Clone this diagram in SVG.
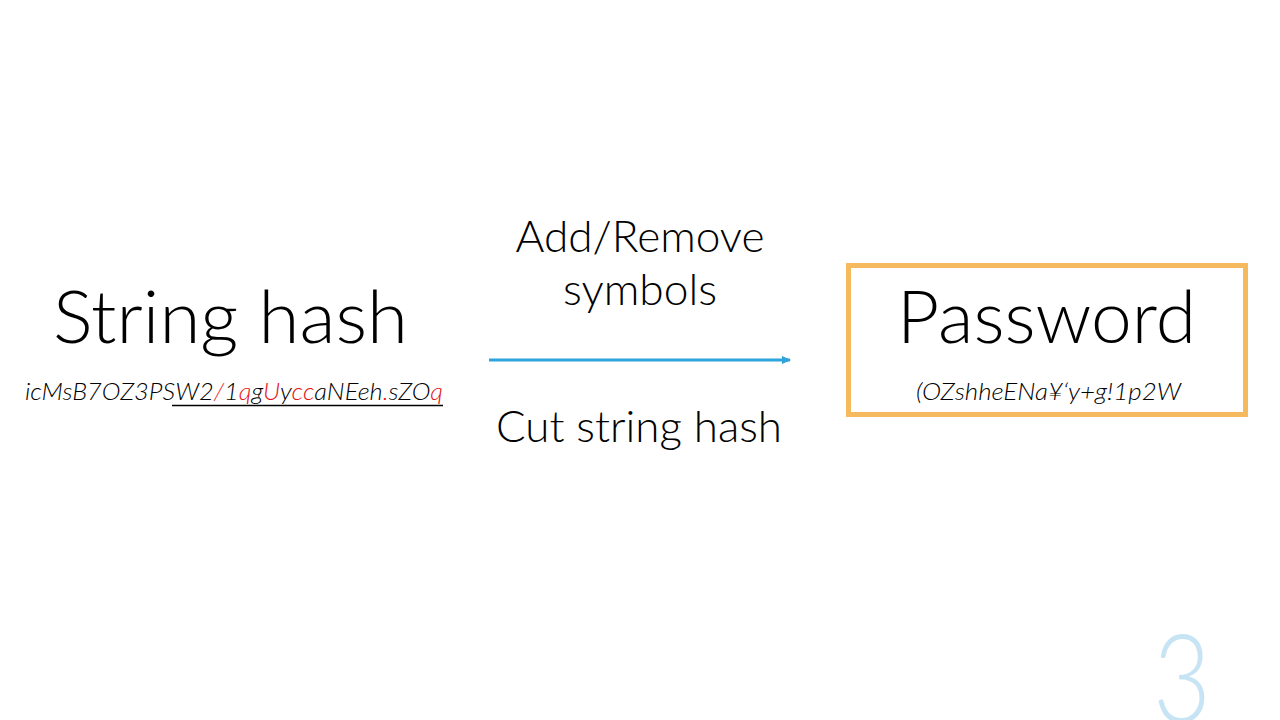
<svg xmlns="http://www.w3.org/2000/svg" width="1280" height="720" viewBox="0 0 1280 720">
<style>
.t{font-family:Lato,"Open Sans","Liberation Sans",sans-serif;font-weight:300;fill:#000}
.big{font-size:72px}
.mid{font-size:44px}
.sm{font-size:23px;font-style:italic}
.r{fill:#E8141B}
</style>
<defs>
<marker id="ah" markerWidth="10" markerHeight="8" refX="8" refY="4" orient="auto" markerUnits="userSpaceOnUse">
<path d="M0,0 L9,4 L0,8 Z" fill="#2FA3DC"/>
</marker>
</defs>
<rect width="1280" height="720" fill="#fff"/>
<g id="string-hash">
<text class="t big" x="53" y="343" textLength="355" lengthAdjust="spacingAndGlyphs">String hash</text>
<text class="t sm" x="25" y="400" textLength="418" lengthAdjust="spacingAndGlyphs">icMsB7OZ3PSW2<tspan class="r">/</tspan>1<tspan class="r">q</tspan>g<tspan class="r">U</tspan>y<tspan class="r">cc</tspan>aNEeh<tspan class="r">.</tspan>sZO<tspan class="r">q</tspan></text>
<line x1="172" y1="405.5" x2="443" y2="405.5" stroke="#000" stroke-width="1.3"/>
</g>
<g id="connectors">
<line x1="489" y1="360" x2="790" y2="360" stroke="#2FA3DC" stroke-width="3" marker-end="url(#ah)"/>
<text class="t mid" x="640" y="252" text-anchor="middle" textLength="249" lengthAdjust="spacingAndGlyphs">Add/Remove</text>
<text class="t mid" x="640" y="305" text-anchor="middle" textLength="154" lengthAdjust="spacingAndGlyphs">symbols</text>
<text class="t mid" x="639" y="442" text-anchor="middle" textLength="286" lengthAdjust="spacingAndGlyphs">Cut string hash</text>
</g>
<g id="password">
<rect x="848.5" y="265.5" width="397" height="149" fill="none" stroke="#F6BA5E" stroke-width="5"/>
<text class="t big" x="897" y="343" textLength="299" lengthAdjust="spacingAndGlyphs">Password</text>
<text class="t sm" x="916" y="400" textLength="265" lengthAdjust="spacingAndGlyphs">(OZshheENa¥‘y+g!1p2W</text>
</g>
<g id="page-number">
<text class="t" x="1182" y="722" font-size="122" text-anchor="middle" textLength="58" lengthAdjust="spacingAndGlyphs" style="fill:#C7E4F4">3</text>
</g>
</svg>
